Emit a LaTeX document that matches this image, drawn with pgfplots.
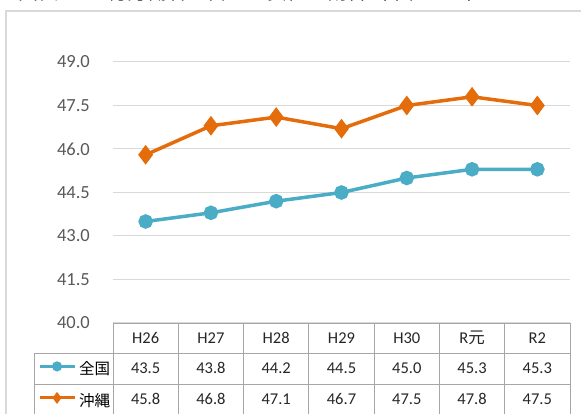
\documentclass[border=0pt]{standalone}
\usepackage{pgfplots}
\pgfplotsset{compat=1.18}
\usepackage{fontspec}
\setmainfont{Carlito}
\newfontfamily\cjk{Noto Sans CJK JP}
\definecolor{cblue}{HTML}{4BACC6}
\definecolor{corange}{HTML}{E46C0A}
\definecolor{gridc}{HTML}{D9D9D9}
\definecolor{tline}{HTML}{A6A6A6}
\definecolor{ticktxt}{HTML}{595959}
\definecolor{tabtxt}{HTML}{262626}
\newcommand\st{\rule{0pt}{14pt}}
\begin{document}
\begin{tikzpicture}[x=1pt,y=1pt]
\draw[gridc, line width=1.5pt] (6,-10) -- (6,403) -- (600,403);
\node[anchor=base west, inner sep=0pt, font=\cjk\fontsize{20}{20}\selectfont] at (18,414.3) {図表2-9　総労働者に占める女性の割合（単位：％）};
\begin{axis}[at={(113pt,91pt)}, anchor=south west, scale only axis,
  width=457pt, height=261pt,
  xmin=-0.5, xmax=6.5, ymin=40, ymax=49, clip=false,
  axis line style={draw=none},
  ytick={40,41.5,43,44.5,46,47.5,49},
  ymajorgrids, grid style={gridc, line width=1pt},
  major tick length=0pt,
  xtick={0,1,2,3,4,5,6},
  xticklabels={{\st H26\\43.5\\45.8},{\st H27\\43.8\\46.8},{\st H28\\44.2\\47.1},{\st H29\\44.5\\46.7},{\st H30\\45.0\\47.5},{\st R{\cjk 元}\\45.3\\47.8},{\st R2\\45.3\\47.5}},
  xticklabel style={anchor=north, inner sep=0pt, align=center, font=\fontsize{16.5}{30.5}\selectfont, text=tabtxt, yshift=-6pt},
  yticklabel style={anchor=east, inner sep=0pt, xshift=-23pt, font=\fontsize{18.5}{18.5}\selectfont, text=ticktxt,
    /pgf/number format/fixed, /pgf/number format/fixed zerofill, /pgf/number format/precision=1},
  /pgf/number format/assume math mode=true,
  legend image code/.code={\draw[#1, mark repeat=2, mark phase=2, line width=3pt, mark size=3.5pt] plot coordinates {(0pt,5pt) (17.5pt,5pt) (35pt,5pt)};},
  legend style={at={(axis description cs:-0.164,-0.153)}, anchor=north west, draw=none, fill=none,
    inner sep=0pt, outer sep=0pt, row sep=15.5pt, column sep=3pt,
    font=\cjk\fontsize{15.5}{15.5}\selectfont, text=black,
    nodes={inner sep=0pt, text height=11pt, text depth=4pt}},
  legend cell align=left,
]
\addplot[cblue, line width=3.5pt, mark=*, mark size=5.5pt] coordinates {(0,43.5) (1,43.8) (2,44.2) (3,44.5) (4,45.0) (5,45.3) (6,45.3)};
\addlegendentry{全国}
\addplot[corange, line width=3.5pt, mark=diamond*, mark size=7pt] coordinates {(0,45.8) (1,46.8) (2,47.1) (3,46.7) (4,47.5) (5,47.8) (6,47.5)};
\addlegendentry{沖縄}
\end{axis}
\begin{scope}[tline, line width=0.8pt]
\draw (113,91) -- (570,91);
\draw (34,61) -- (570,61);
\draw (34,30) -- (570,30);
\draw (34,61) -- (34,-5);
\foreach \k in {0,...,7} {\draw ({113+65.2857*\k},91) -- ({113+65.2857*\k},-5);}
\end{scope}
\pgfresetboundingbox
\path[use as bounding box] (0,0) rectangle (581,414);
\end{tikzpicture}
\end{document}
